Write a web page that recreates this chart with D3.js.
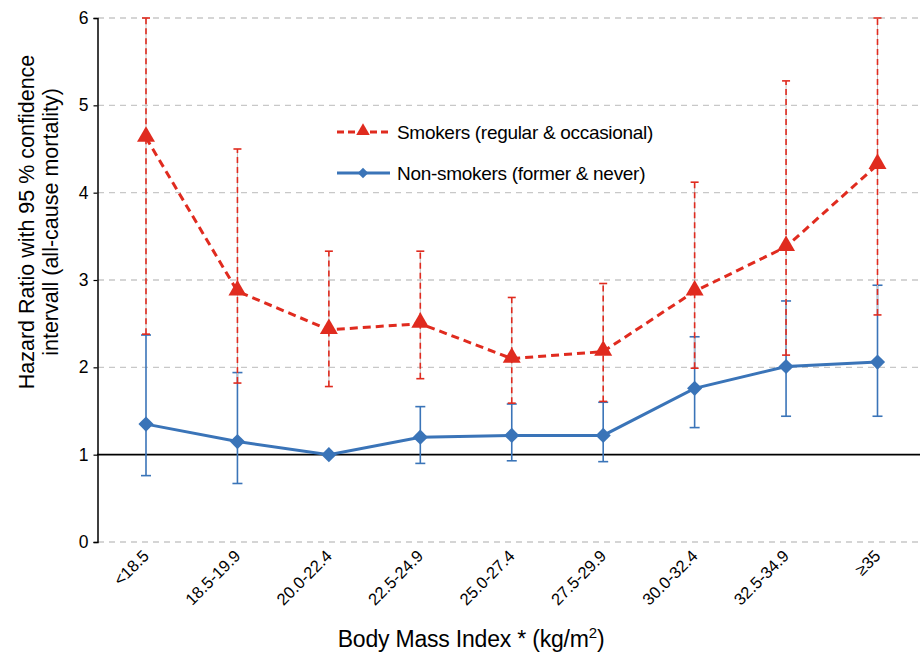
<!DOCTYPE html>
<html>
<head>
<meta charset="utf-8">
<script src="https://cdn.jsdelivr.net/npm/d3@7"></script>
<style>
  body { margin: 0; background: #fff; }
  svg { font-family: "Liberation Sans", Arial, sans-serif; }
</style>
</head>
<body>
<svg id="chart" width="922" height="653"></svg>
<script>
// categories and values
const categories = ["<18.5", "18.5-19.9", "20.0-22.4", "22.5-24.9", "25.0-27.4", "27.5-29.9", "30.0-32.4", "32.5-34.9", "\u226535"];

const smokersHR    = [4.63, 2.87, 2.43, 2.50, 2.10, 2.18, 2.87, 3.38, 4.32];
const smokersLow   = [2.38, 1.82, 1.78, 1.87, 1.59, 1.61, 1.99, 2.14, 2.60];
const smokersHigh  = [6.00, 4.50, 3.33, 3.33, 2.80, 2.96, 4.12, 5.28, 6.00];

const nonSmokersHR   = [1.35, 1.15, 1.00, 1.20, 1.22, 1.22, 1.76, 2.01, 2.06];
const nonSmokersLow  = [0.76, 0.67, null, 0.90, 0.93, 0.92, 1.31, 1.44, 1.44];
const nonSmokersHigh = [2.37, 1.94, null, 1.55, 1.58, 1.60, 2.35, 2.76, 2.94];

const yTicks = [0, 1, 2, 3, 4, 5, 6];

const RED = "#e02b1f";
const BLUE = "#3a74b8";

let svg = d3.select("#chart");

let x = d3.scalePoint()
    .domain(categories)
    .range([146, 877.5]);

let y = d3.scaleLinear()
    .domain([0, 6])
    .range([542, 18]);

// gridlines (dashed gray), reference line at 1 drawn solid later
svg.append("g")
    .selectAll("line")
    .data(yTicks.filter(function(d) { return d !== 1; }))
    .join("line")
    .attr("x1", 98)
    .attr("x2", 920)
    .attr("y1", function(d) { return y(d); })
    .attr("y2", function(d) { return y(d); })
    .attr("stroke", "#c8c8c8")
    .attr("stroke-width", 1.3)
    .attr("stroke-dasharray", "6,5");

// y axis
let yAxis = svg.append("g")
    .attr("transform", "translate(97.5,0)")
    .call(d3.axisLeft(y).tickValues(yTicks).tickSize(4).tickPadding(5).tickFormat(d3.format("d")));
yAxis.select(".domain").attr("stroke", "#000").attr("stroke-width", 1.5);
yAxis.selectAll(".tick line").attr("stroke", "#000").attr("stroke-width", 1.2);
yAxis.selectAll(".tick text")
    .attr("font-size", 17.5)
    .attr("font-family", "Liberation Sans, Arial, sans-serif")
    .attr("fill", "#000");

// reference line at HR = 1
svg.append("line")
    .attr("x1", 97)
    .attr("x2", 920)
    .attr("y1", y(1))
    .attr("y2", y(1))
    .attr("stroke", "#000")
    .attr("stroke-width", 1.8);

// x tick labels (rotated)
svg.append("g")
    .selectAll("text")
    .data(categories)
    .join("text")
    .attr("transform", function(d) { return "translate(" + (x(d) + 4) + ",557) rotate(-45)"; })
    .attr("text-anchor", "end")
    .attr("font-size", 16.5)
    .attr("fill", "#000")
    .text(function(d) { return d; });

// error bars
function drawErrorBars(low, high, color, capW, dashed) {
    let g = svg.append("g");
    let idx = categories.map(function(c, i) { return i; }).filter(function(i) { return low[i] != null; });
    if (dashed) {
        g.selectAll("line.under")
            .data(idx)
            .join("line")
            .attr("class", "under")
            .attr("x1", function(i) { return x(categories[i]); })
            .attr("x2", function(i) { return x(categories[i]); })
            .attr("y1", function(i) { return y(low[i]); })
            .attr("y2", function(i) { return y(high[i]); })
            .attr("stroke", "#c0c0c0")
            .attr("stroke-width", 1);
    }
    g.selectAll("line.bar")
        .data(idx)
        .join("line")
        .attr("class", "bar")
        .attr("x1", function(i) { return x(categories[i]); })
        .attr("x2", function(i) { return x(categories[i]); })
        .attr("y1", function(i) { return y(low[i]); })
        .attr("y2", function(i) { return y(high[i]); })
        .attr("stroke", color)
        .attr("stroke-width", 1.6)
        .attr("stroke-dasharray", dashed ? "6,4" : null);
    let caps = [];
    idx.forEach(function(i) { caps.push([i, low[i]]); caps.push([i, high[i]]); });
    g.selectAll("line.cap")
        .data(caps)
        .join("line")
        .attr("class", "cap")
        .attr("x1", function(d) { return x(categories[d[0]]) - capW / 2; })
        .attr("x2", function(d) { return x(categories[d[0]]) + capW / 2; })
        .attr("y1", function(d) { return y(d[1]); })
        .attr("y2", function(d) { return y(d[1]); })
        .attr("stroke", color)
        .attr("stroke-width", 1.6);
}

drawErrorBars(nonSmokersLow, nonSmokersHigh, BLUE, 10, false);
drawErrorBars(smokersLow, smokersHigh, RED, 8, true);

// series lines
let line = d3.line()
    .x(function(d, i) { return x(categories[i]); })
    .y(function(d) { return y(d); });

svg.append("path")
    .datum(smokersHR)
    .attr("fill", "none")
    .attr("stroke", RED)
    .attr("stroke-width", 3)
    .attr("stroke-dasharray", "8,5")
    .attr("d", line);

svg.append("path")
    .datum(nonSmokersHR)
    .attr("fill", "none")
    .attr("stroke", BLUE)
    .attr("stroke-width", 3)
    .attr("d", line);

// markers
let triangle = d3.symbol().type(d3.symbolTriangle).size(140);
let diamond = d3.symbol().type(d3.symbolSquare).size(115);

svg.append("g")
    .selectAll("path")
    .data(smokersHR)
    .join("path")
    .attr("transform", function(d, i) { return "translate(" + x(categories[i]) + "," + (y(d) - 1) + ")"; })
    .attr("d", triangle)
    .attr("fill", RED);

svg.append("g")
    .selectAll("path")
    .data(nonSmokersHR)
    .join("path")
    .attr("transform", function(d, i) { return "translate(" + x(categories[i]) + "," + y(d) + ") rotate(45)"; })
    .attr("d", diamond)
    .attr("fill", BLUE);

// legend
let legend = svg.append("g");
legend.append("line")
    .attr("x1", 337).attr("x2", 390).attr("y1", 132).attr("y2", 132)
    .attr("stroke", RED).attr("stroke-width", 3).attr("stroke-dasharray", "7,4");
legend.append("path")
    .attr("transform", "translate(363,131)")
    .attr("d", d3.symbol().type(d3.symbolTriangle).size(80))
    .attr("fill", RED);
legend.append("text")
    .attr("x", 397).attr("y", 139)
    .attr("font-size", 19)
    .attr("letter-spacing", -0.3)
    .text("Smokers (regular & occasional)");

legend.append("line")
    .attr("x1", 337).attr("x2", 390).attr("y1", 173).attr("y2", 173)
    .attr("stroke", BLUE).attr("stroke-width", 3);
legend.append("path")
    .attr("transform", "translate(363,173) rotate(45)")
    .attr("d", d3.symbol().type(d3.symbolSquare).size(55))
    .attr("fill", BLUE);
legend.append("text")
    .attr("x", 397).attr("y", 180)
    .attr("font-size", 19)
    .attr("letter-spacing", -0.3)
    .text("Non-smokers (former & never)");

// axis titles
let xTitle = svg.append("text")
    .attr("x", 471)
    .attr("y", 647)
    .attr("text-anchor", "middle")
    .attr("font-size", 23)
    .attr("letter-spacing", -0.2)
    .attr("fill", "#000");
xTitle.append("tspan").text("Body Mass Index * (kg/m");
xTitle.append("tspan").attr("font-size", 15).attr("dy", -9).text("2");
xTitle.append("tspan").attr("dy", 9).text(")");

let yTitle = svg.append("text")
    .attr("transform", "translate(34,222) rotate(-90)")
    .attr("text-anchor", "middle")
    .attr("font-size", 21.5)
    .attr("fill", "#000");
yTitle.append("tspan").attr("x", 0).attr("y", 0).text("Hazard Ratio with 95 % confidence");
yTitle.append("tspan").attr("x", 0).attr("y", 24).text("intervall (all-cause mortality)");
</script>
</body>
</html>
